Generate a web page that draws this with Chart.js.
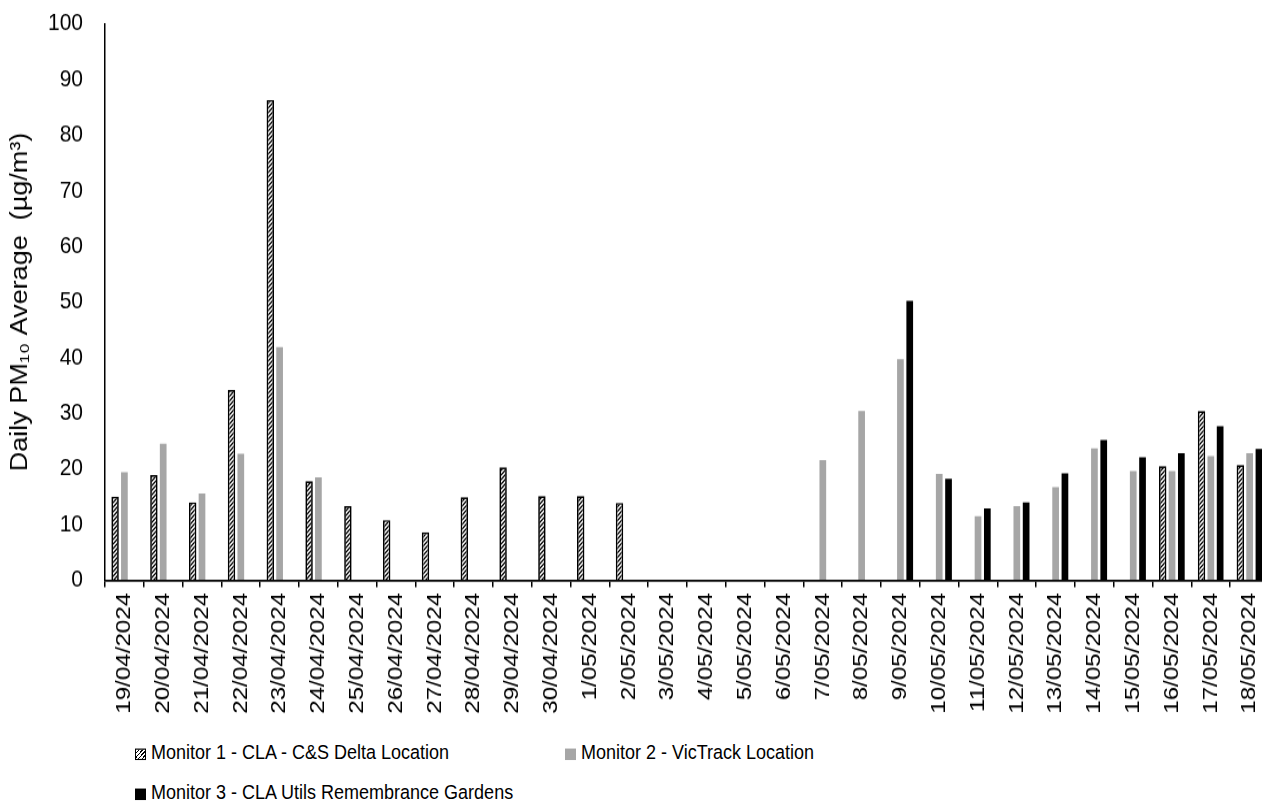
<!DOCTYPE html>
<html>
<head>
<meta charset="utf-8">
<script src="https://cdn.jsdelivr.net/npm/chart.js@4.4.1/dist/chart.umd.min.js"></script>
<style>
html,body{margin:0;padding:0;background:#fff;overflow:hidden;width:1262px;height:805px;position:relative}
/* the reference is slightly stretched vertically, so the chart is drawn at 1/1.15 height and scaled */
#wrap{position:absolute;left:0;top:-16px;width:1280px;height:649px;transform:scaleY(1.15);transform-origin:0 0}
.leg{position:absolute;font-family:"Liberation Sans",Arial,sans-serif;font-size:18px;line-height:20px;color:#000;white-space:nowrap;transform:scaleY(1.15);transform-origin:0 50%}
.sw{display:inline-block;width:11px;height:10px;margin-right:5px;box-sizing:border-box;vertical-align:-1px}
</style>
</head>
<body>
<div id="wrap"><canvas id="pmChart"></canvas></div>
<div id="legend"></div>
<script>
// categories
const dates=['19/04/2024','20/04/2024','21/04/2024','22/04/2024','23/04/2024','24/04/2024','25/04/2024','26/04/2024','27/04/2024','28/04/2024','29/04/2024','30/04/2024','1/05/2024','2/05/2024','3/05/2024','4/05/2024','5/05/2024','6/05/2024','7/05/2024','8/05/2024','9/05/2024','10/05/2024','11/05/2024','12/05/2024','13/05/2024','14/05/2024','15/05/2024','16/05/2024','17/05/2024','18/05/2024'];

// series (daily PM10 averages, ug/m3)
const monitor1=[15.0,18.9,14.0,34.2,86.3,17.8,13.3,10.8,8.6,14.9,20.3,15.1,15.1,13.9,null,null,null,null,null,null,null,null,null,null,null,null,null,20.5,30.4,20.7];
const monitor2=[19.4,24.5,15.6,22.7,41.9,18.5,null,null,null,null,null,null,null,null,null,null,null,null,21.6,30.4,39.7,19.1,11.5,13.3,16.7,23.7,19.6,19.6,22.3,22.8];
const monitor3=[null,null,null,null,null,null,null,null,null,null,null,null,null,null,null,null,null,null,null,null,50.2,18.2,12.9,14.0,19.2,25.2,22.1,22.8,27.7,23.6];

const seriesNames=['Monitor 1 - CLA - C&S Delta Location','Monitor 2 - VicTrack Location','Monitor 3 - CLA Utils Remembrance Gardens'];
const yMin=0, yMax=100, yStep=10;

const canvas=document.getElementById('pmChart');
const ctx=canvas.getContext('2d');

// diagonal hatch for monitor 1
function makeHatch(){
  const c=document.createElement('canvas');
  c.width=4;c.height=4;
  const g=c.getContext('2d');
  g.fillStyle='#fff';g.fillRect(0,0,4,4);
  g.strokeStyle='#000';g.lineWidth=1.3;
  g.beginPath();
  g.moveTo(0,4);g.lineTo(4,0);
  g.moveTo(-1,1);g.lineTo(1,-1);
  g.moveTo(3,5);g.lineTo(5,3);
  g.stroke();
  return ctx.createPattern(c,'repeat');
}

const font='"Liberation Sans", Arial, sans-serif';

new Chart(ctx,{
  type:'bar',
  data:{
    labels:dates,
    datasets:[
      {label:seriesNames[0],data:monitor1,backgroundColor:makeHatch(),borderColor:'#000',borderWidth:1.7,barPercentage:0.8},
      {label:seriesNames[1],data:monitor2,backgroundColor:'#a6a6a6',borderWidth:0},
      {label:seriesNames[2],data:monitor3,backgroundColor:'#000',borderWidth:0}
    ]
  },
  options:{
    responsive:true,
    maintainAspectRatio:false,
    animation:false,
    layout:{padding:{top:12,right:10,left:0,bottom:0}},
    datasets:{bar:{categoryPercentage:0.72,barPercentage:0.72}},
    plugins:{legend:{display:false},tooltip:{enabled:false}},
    scales:{
      x:{
        grid:{display:true,drawOnChartArea:false,drawTicks:true,tickLength:6,color:'#000',lineWidth:1.5,offset:true},
        border:{display:true,color:'#000',width:1.8},
        ticks:{color:'#000',font:{family:font,size:21},minRotation:90,maxRotation:90,autoSkip:false,padding:5},
        afterFit:s=>{s.height=130.6;}
      },
      y:{
        min:yMin,max:yMax,
        grid:{display:true,drawOnChartArea:false,drawTicks:false},
        border:{display:true,color:'#000',width:1.5},
        ticks:{stepSize:yStep,color:'#000',font:{family:font,size:21},padding:22},
        title:{display:true,text:'Daily PM\u2081\u2080 Average  (\u00b5g/m\u00b3)',color:'#000',font:{family:font,size:23.5},padding:{top:6,bottom:0}},
        afterFit:s=>{s.width=105;}
      }
    }
  }
});

// legend below the chart
const legendPos=[[135,742],[565,742],[135,782]];
const swatchCss=[
  'border:1px solid #000;background:repeating-linear-gradient(135deg,#fff 0 1.6px,#000 1.6px 2.6px)',
  'background:#a6a6a6',
  'background:#000'
];
const legend=document.getElementById('legend');
seriesNames.forEach((name,i)=>{
  const d=document.createElement('div');
  d.className='leg';
  d.style.left=legendPos[i][0]+'px';
  d.style.top=legendPos[i][1]+'px';
  const sw=document.createElement('span');
  sw.className='sw';
  sw.style.cssText=swatchCss[i];
  d.appendChild(sw);
  d.appendChild(document.createTextNode(name));
  legend.appendChild(d);
});
</script>
</body>
</html>
